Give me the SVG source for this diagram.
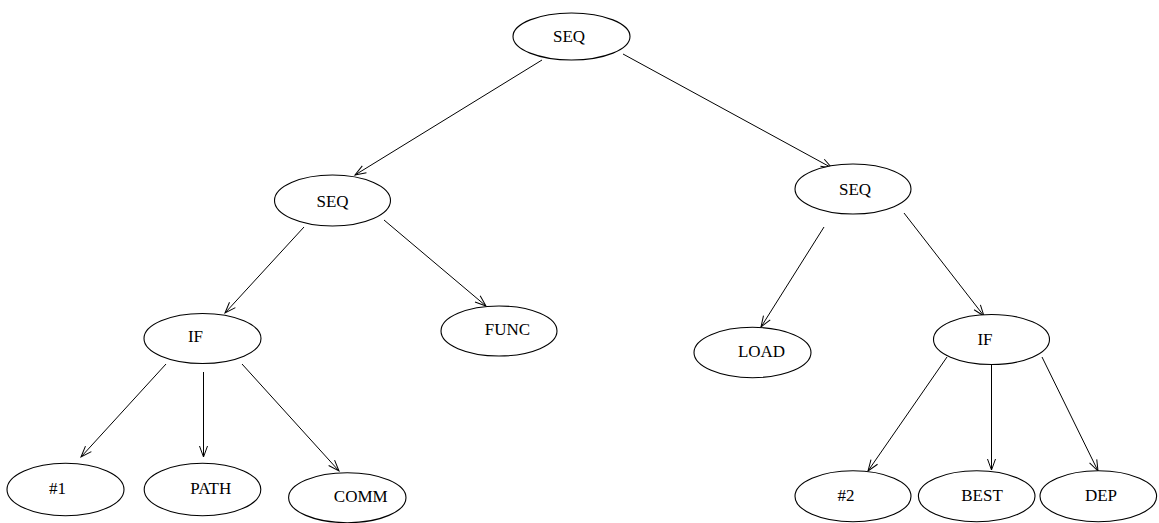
<svg xmlns="http://www.w3.org/2000/svg" width="1159" height="523" viewBox="0 0 1159 523">
<style>
.n ellipse{fill:#fff;stroke:#000;stroke-width:1.1}
.n text{font-family:"Liberation Serif","Times New Roman",serif;font-size:17px;fill:#000;text-anchor:middle}
#edges line{stroke:#000;stroke-width:1;marker-end:url(#arr)}
</style>
<defs>
<marker id="arr" markerWidth="14" markerHeight="10" refX="12" refY="5" orient="auto" markerUnits="userSpaceOnUse">
<path d="M1,1 L12,5 L1,9" fill="none" stroke="#000" stroke-width="1"/>
</marker>
</defs>
<rect width="1159" height="523" fill="#fff"/>
<g id="edges">
<line x1="542" y1="60" x2="355" y2="175"/>
<line x1="623" y1="54" x2="832" y2="168"/>
<line x1="304" y1="227" x2="225" y2="313"/>
<line x1="384" y1="220" x2="486" y2="306"/>
<line x1="824" y1="227" x2="761" y2="327"/>
<line x1="904" y1="213" x2="984" y2="316"/>
<line x1="166" y1="364" x2="81" y2="457"/>
<line x1="203.5" y1="372" x2="203.5" y2="457"/>
<line x1="242" y1="364" x2="339" y2="471"/>
<line x1="947" y1="357" x2="868" y2="471"/>
<line x1="991.5" y1="364" x2="991.5" y2="470"/>
<line x1="1042" y1="357" x2="1098" y2="471"/>
</g>
<g id="n-seq-top" class="n"><ellipse cx="571.5" cy="36.5" rx="58.5" ry="23.5"/><text x="569" y="42">SEQ</text></g>
<g id="n-seq-left" class="n"><ellipse cx="332.5" cy="200.5" rx="58" ry="25.5"/><text x="332.5" y="206.5">SEQ</text></g>
<g id="n-seq-right" class="n"><ellipse cx="853" cy="189" rx="58" ry="25"/><text x="855" y="195">SEQ</text></g>
<g id="n-if-left" class="n"><ellipse cx="202.5" cy="338.5" rx="58.5" ry="25"/><text x="195.5" y="341.5">IF</text></g>
<g id="n-func" class="n"><ellipse cx="499" cy="331" rx="58" ry="25"/><text x="507.5" y="335">FUNC</text></g>
<g id="n-load" class="n"><ellipse cx="752.5" cy="352.5" rx="58.5" ry="25.2"/><text x="761.5" y="356.5">LOAD</text></g>
<g id="n-if-right" class="n"><ellipse cx="991.5" cy="339.5" rx="58" ry="25"/><text x="985" y="345">IF</text></g>
<g id="n-1" class="n"><ellipse cx="65.5" cy="489.5" rx="58.5" ry="26.3"/><text x="57.5" y="494">#1</text></g>
<g id="n-path" class="n"><ellipse cx="202.5" cy="489.5" rx="58.3" ry="26.3"/><text x="210.8" y="494">PATH</text></g>
<g id="n-comm" class="n"><ellipse cx="347.3" cy="497.7" rx="58.7" ry="25"/><text x="360.8" y="502">COMM</text></g>
<g id="n-2" class="n"><ellipse cx="853" cy="496.2" rx="58" ry="25.5"/><text x="846" y="501">#2</text></g>
<g id="n-best" class="n"><ellipse cx="976.7" cy="496.2" rx="58.3" ry="25.5"/><text x="982" y="501">BEST</text></g>
<g id="n-dep" class="n"><ellipse cx="1098.3" cy="496.2" rx="58.3" ry="25.5"/><text x="1101" y="501">DEP</text></g>
</svg>
